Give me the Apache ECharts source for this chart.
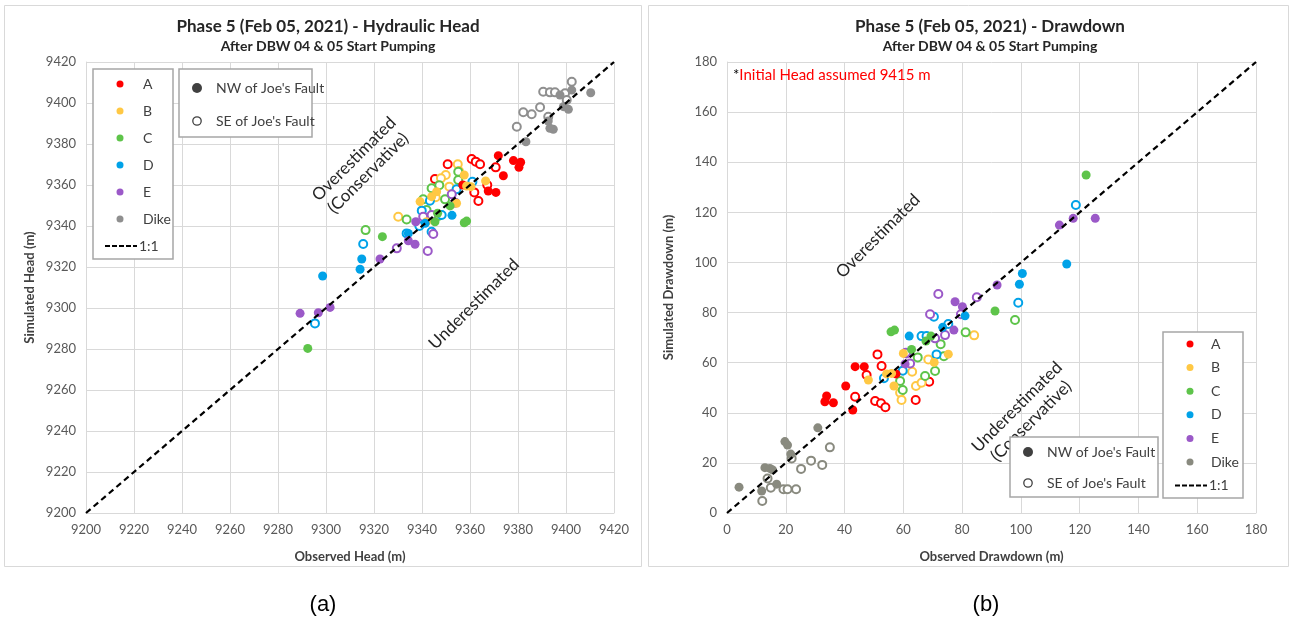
<!DOCTYPE html>
<html><head><meta charset="utf-8">
<script src="https://cdn.jsdelivr.net/npm/echarts@6/dist/echarts.min.js"></script>
<style>html,body{margin:0;padding:0;background:#fff}#c{width:1291px;height:621px}</style>
</head><body><div id="c"></div>
<script>
// ---------- DATA ----------
var groups = ['A','B','C','D','E','Dike'];
var headColors = ['#ff0000','#ffc844','#5ec44a','#00a2e8','#9b59c8','#8f8f8f'];
var ddColors = ['#ff0000','#ffc844','#5ec44a','#00a2e8','#9b59c8','#898a7f'];
var headTicks = [9200,9220,9240,9260,9280,9300,9320,9340,9360,9380,9400,9420];
var ddTicks = [0,20,40,60,80,100,120,140,160,180];
var oneToOneHead = [[9200,9200],[9420,9420]];
var oneToOneDD = [[0,0],[180,180]];

// Hydraulic head [observed, simulated]; NW = filled, SE = open
var headA_NW = [[9371.8,9374.3],[9378.1,9371.9],[9381.1,9371.1],[9380.4,9368.6],[9373.9,9364.5],[9357,9360],[9367.6,9357.1],[9370.8,9356.4]];
var headA_SE = [[9360.7,9372.7],[9362.4,9371.4],[9364.2,9370.1],[9370.7,9368.6],[9350.7,9370.1],[9345.4,9362.9],[9361.8,9356.4],[9363.5,9352.2],[9367.2,9360]];
var headB_NW = [[9357.6,9364.9],[9366.5,9362],[9358.6,9359.5],[9360.4,9359.2],[9346.1,9356.7],[9339.2,9351.9],[9344,9354.3],[9354.4,9351.1],[9341.9,9342.1]];
var headB_SE = [[9354.9,9370.1],[9355.4,9366.8],[9349.9,9364.9],[9347.9,9363.3],[9351.4,9359.2],[9330.1,9344.5],[9345.7,9354]];
var headC_NW = [[9323.5,9334.8],[9345.4,9342.1],[9357.6,9341.6],[9358.6,9342.4],[9351.7,9349.8],[9346.5,9346.2],[9292.4,9280.3]];
var headC_SE = [[9355.1,9366.5],[9355.1,9362.4],[9347.2,9359.9],[9344,9358.4],[9340.5,9353],[9349.6,9353],[9333.6,9343.2],[9316.5,9338],[9341.9,9347.8],[9346.8,9344.9]];
var headD_NW = [[9352.5,9345.2],[9341.3,9341.3],[9334.3,9336.4],[9314.9,9323.9],[9314.2,9318.9],[9298.6,9315.6]];
var headD_SE = [[9361,9361.6],[9354.4,9357.9],[9343.3,9352.3],[9348.2,9345.4],[9339.9,9347.5],[9344,9337.2],[9333.6,9336.4],[9315.5,9331.2],[9338.9,9340],[9295.4,9292.5]];
var headE_NW = [[9337.4,9342.1],[9334.3,9332.8],[9337.1,9331.1],[9322.5,9323.9],[9289.2,9297.4],[9296.8,9297.7],[9301.7,9300.3]];
var headE_SE = [[9352.4,9355.5],[9353.8,9351.4],[9344,9345.4],[9340.5,9344.5],[9344.7,9336.1],[9329.5,9329.1],[9342.4,9327.8]];
var headDike_NW = [[9402.4,9406.3],[9410.3,9405],[9397.5,9403.9],[9398.9,9398.2],[9401,9396.9],[9392.6,9391.2],[9394.7,9387.2],[9393.3,9387.7],[9383.3,9381.1]];
var headDike_SE = [[9402.4,9410.4],[9390.5,9405.5],[9393.3,9405.2],[9395.4,9405.2],[9399.6,9404.7],[9400.3,9401.5],[9382.2,9395.5],[9385.7,9394.5],[9389.2,9397.9],[9392.6,9393.3],[9379.5,9388.4]];

// Drawdown [observed, simulated]
var ddA_NW = [[43.6,58.4],[46.7,58.4],[40.4,50.7],[33.9,46.7],[33.3,44.4],[36.2,44],[42.8,41.1],[57.5,55.5]];
var ddA_SE = [[51.2,63.3],[52.6,58.7],[47.5,55.1],[43.6,46.4],[50.4,44.7],[52.4,43.8],[53.9,42.2],[64.2,45.1],[68.8,52.4]];
var ddB_NW = [[48.1,53.1],[54.3,55.5],[56,55.7],[56.8,50.7],[60,63.7],[70.5,60.1],[75.3,63.4]];
var ddB_SE = [[63,56.4],[68.5,61.3],[58.9,48],[59.4,45.1],[64.3,50.7],[66.2,52],[84.1,70.9]];
var ddC_NW = [[55.8,72.3],[57,73],[62.8,65.3],[69.4,70.6],[67.7,68.6],[91.2,80.6],[122.2,134.9]];
var ddC_SE = [[58.9,52.7],[59.8,49.1],[64.9,62.1],[67.4,54.7],[70.8,56.7],[73.8,62.6],[72.7,67.4],[81.2,72.1],[98,77]];
var ddD_NW = [[62,70.6],[73.4,74.1],[81,78.7],[100.5,95.6],[99.5,91.3],[115.6,99.4]];
var ddD_SE = [[66.2,70.6],[67.9,70.6],[75.3,75.4],[71.3,63.3],[59.8,56.8],[53.4,53.8],[70.4,78.3],[99.1,83.9],[118.7,122.9]];
var ddE_NW = [[77.2,73],[60.6,59.5],[77.6,84.3],[80.1,82.3],[91.9,91],[113.1,114.9],[117.8,117.6],[125.3,117.6]];
var ddE_SE = [[61.1,63.7],[62.3,59.7],[70.8,69.7],[74.2,71],[71.9,87.4],[69.1,79.3],[85,86.1],[79.6,79.3],[60.9,64]];
var ddDike_NW = [[4.1,10.3],[11.8,8.8],[16.9,11.5],[12.9,18.1],[14.6,17.8],[15.5,17.2],[19.7,28.5],[20.6,27.1],[21.7,23.5],[30.9,34]];
var ddDike_SE = [[12,4.8],[13.8,13.8],[14.9,10.1],[19.2,9.5],[20.6,9.5],[23.5,9.5],[22,21.8],[25.2,17.6],[28.6,20.9],[32.4,19.2],[35,26.2]];

var headNW = [headA_NW, headB_NW, headC_NW, headD_NW, headE_NW, headDike_NW];
var headSE = [headA_SE, headB_SE, headC_SE, headD_SE, headE_SE, headDike_SE];
var ddNW = [ddA_NW, ddB_NW, ddC_NW, ddD_NW, ddE_NW, ddDike_NW];
var ddSE = [ddA_SE, ddB_SE, ddC_SE, ddD_SE, ddE_SE, ddDike_SE];

// ---------- CHART ----------
var FONT = 'Lato, "Open Sans", sans-serif';
var chart = echarts.init(document.getElementById('c'), null, {renderer: 'canvas'});

function axisCommon(min, max, interval, gridIndex, name, nameGap) {
  return {
    type: 'value', gridIndex: gridIndex, min: min, max: max, interval: interval,
    name: name, nameLocation: 'middle', nameGap: nameGap,
    nameTextStyle: {fontFamily: FONT, fontWeight: 'bold', fontSize: 13, color: '#404040'},
    axisLine: {show: true, lineStyle: {color: '#d9d9d9', width: 1}},
    axisTick: {show: false},
    axisLabel: {fontFamily: FONT, fontSize: 13, color: '#595959', margin: 10,
      formatter: function (v) { return String(v); }},
    splitLine: {show: true, lineStyle: {color: '#d9d9d9', width: 1}}
  };
}

var series = [];
function addScatter(arrNW, arrSE, axisIdx, colors) {
  for (var i = 0; i < groups.length; i++) {
    series.push({
      type: 'scatter', name: groups[i] + ' SE', xAxisIndex: axisIdx, yAxisIndex: axisIdx,
      data: arrSE[i], symbol: 'circle', symbolSize: 8, z: 3,
      itemStyle: {color: '#ffffff', borderColor: colors[i], borderWidth: 2, opacity: 1},
      emphasis: {disabled: true}
    });
    series.push({
      type: 'scatter', name: groups[i] + ' NW', xAxisIndex: axisIdx, yAxisIndex: axisIdx,
      data: arrNW[i], symbol: 'circle', symbolSize: 9, z: 4,
      itemStyle: {color: colors[i], borderWidth: 0, opacity: 1},
      emphasis: {disabled: true}
    });
  }
}
series.push({type: 'line', name: '1:1', xAxisIndex: 0, yAxisIndex: 0, data: oneToOneHead, symbol: 'none', z: 5,
  lineStyle: {color: '#000', width: 2.2, type: [6, 4]}});
series.push({type: 'line', name: '1:1 dd', xAxisIndex: 1, yAxisIndex: 1, data: oneToOneDD, symbol: 'none', z: 5,
  lineStyle: {color: '#000', width: 2.2, type: [6, 4]}});
addScatter(headNW, headSE, 0, headColors);
addScatter(ddNW, ddSE, 1, ddColors);

// legends as graphics
var graphics = [];
graphics.push({type: 'rect', shape: {x: 4.5, y: 5.5, width: 637, height: 561}, style: {fill: 'none', stroke: '#d9d9d9', lineWidth: 1}, z: -10});
graphics.push({type: 'rect', shape: {x: 648.5, y: 5.5, width: 640, height: 561}, style: {fill: 'none', stroke: '#d9d9d9', lineWidth: 1}, z: -10});

function groupLegend(x0, y0, w, h, dotX, txtX, firstY, step, colors) {
  graphics.push({type: 'rect', shape: {x: x0, y: y0, width: w, height: h}, style: {fill: '#fff', stroke: '#a6a6a6', lineWidth: 1.5}, z: 10});
  for (var i = 0; i < groups.length; i++) {
    var y = firstY + i * step;
    graphics.push({type: 'circle', shape: {cx: dotX, cy: y, r: 3.5}, style: {fill: colors[i]}, z: 11});
    graphics.push({type: 'text', x: txtX, y: y, style: {text: groups[i], fontFamily: FONT, fontSize: 14, fill: '#404040', verticalAlign: 'middle'}, z: 11});
  }
  var ly = firstY + groups.length * step;
  graphics.push({type: 'line', shape: {x1: dotX - 15, y1: ly, x2: dotX + 17, y2: ly}, style: {stroke: '#000', lineWidth: 2, lineDash: [5, 2]}, z: 11});
  graphics.push({type: 'text', x: dotX + 19, y: ly, style: {text: '1:1', fontFamily: FONT, fontSize: 14, fill: '#404040', verticalAlign: 'middle'}, z: 11});
}
function faultLegend(x0, y0, w, h, dotX, txtX, y1, y2) {
  graphics.push({type: 'rect', shape: {x: x0, y: y0, width: w, height: h}, style: {fill: '#fff', stroke: '#a6a6a6', lineWidth: 1.5}, z: 10});
  graphics.push({type: 'circle', shape: {cx: dotX, cy: y1, r: 5}, style: {fill: '#404040'}, z: 11});
  graphics.push({type: 'text', x: txtX, y: y1, style: {text: "NW of Joe's Fault", fontFamily: FONT, fontSize: 14, fill: '#404040', verticalAlign: 'middle'}, z: 11});
  graphics.push({type: 'circle', shape: {cx: dotX, cy: y2, r: 4.2}, style: {fill: '#fff', stroke: '#404040', lineWidth: 1.3}, z: 11});
  graphics.push({type: 'text', x: txtX, y: y2, style: {text: "SE of Joe's Fault", fontFamily: FONT, fontSize: 14, fill: '#404040', verticalAlign: 'middle'}, z: 11});
}
groupLegend(93, 69, 80, 190, 120, 143, 84, 27, headColors);
faultLegend(179, 69, 133, 68, 197, 216, 88, 121);
groupLegend(1163, 332, 80, 166, 1190, 1211, 344, 23.6, ddColors);
faultLegend(1010, 437, 148, 60, 1028, 1047, 452, 483);

function rotText(x, y, text) {
  graphics.push({type: 'text', x: x, y: y, rotation: Math.PI / 4,
    style: {text: text, fontFamily: FONT, fontSize: 17, fill: '#262626', align: 'center', verticalAlign: 'middle', lineHeight: 20}, z: 6});
}
rotText(361, 166, 'Overestimated\n(Conservative)');
rotText(474, 304, 'Underestimated');
rotText(878, 236, 'Overestimated');
rotText(1024, 414, 'Underestimated\n(Conservative)');

graphics.push({type: 'text', x: 733, y: 75, style: {rich: {a: {fill: '#000', fontFamily: FONT, fontSize: 15}, b: {fill: '#ff0000', fontFamily: FONT, fontSize: 15}}, text: '{a|*}{b|Initial Head assumed 9415 m}', verticalAlign: 'middle'}, z: 6});
graphics.push({type: 'text', x: 323, y: 605, style: {text: '(a)', fontFamily: '"Liberation Sans", sans-serif', fontSize: 22, fill: '#000', align: 'center', verticalAlign: 'middle'}});
graphics.push({type: 'text', x: 986, y: 605, style: {text: '(b)', fontFamily: '"Liberation Sans", sans-serif', fontSize: 22, fill: '#000', align: 'center', verticalAlign: 'middle'}});

var option = {
  backgroundColor: '#ffffff',
  animation: false,
  title: [
    {text: 'Phase 5 (Feb 05, 2021) - Hydraulic Head', subtext: 'After DBW 04 & 05 Start Pumping', left: 323, top: 13, textAlign: 'center', itemGap: 4,
      textStyle: {fontFamily: FONT, fontWeight: 'bold', fontSize: 17, color: '#262626'},
      subtextStyle: {fontFamily: FONT, fontWeight: 'bold', fontSize: 14, color: '#262626'}},
    {text: 'Phase 5 (Feb 05, 2021) - Drawdown', subtext: 'After DBW 04 & 05 Start Pumping', left: 985, top: 13, textAlign: 'center', itemGap: 4,
      textStyle: {fontFamily: FONT, fontWeight: 'bold', fontSize: 17, color: '#262626'},
      subtextStyle: {fontFamily: FONT, fontWeight: 'bold', fontSize: 14, color: '#262626'}}
  ],
  grid: [
    {left: 86, top: 62, width: 528, height: 451, show: false},
    {left: 727, top: 62, width: 529, height: 451, show: false}
  ],
  xAxis: [
    axisCommon(headTicks[0], headTicks[headTicks.length - 1], 20, 0, 'Observed Head (m)', 37),
    axisCommon(ddTicks[0], ddTicks[ddTicks.length - 1], 20, 1, 'Observed Drawdown (m)', 37)
  ],
  yAxis: [
    axisCommon(headTicks[0], headTicks[headTicks.length - 1], 20, 0, 'Simulated Head (m)', 50),
    axisCommon(ddTicks[0], ddTicks[ddTicks.length - 1], 20, 1, 'Simulated Drawdown (m)', 52)
  ],
  series: series,
  graphic: graphics
};
chart.setOption(option);
</script></body></html>
